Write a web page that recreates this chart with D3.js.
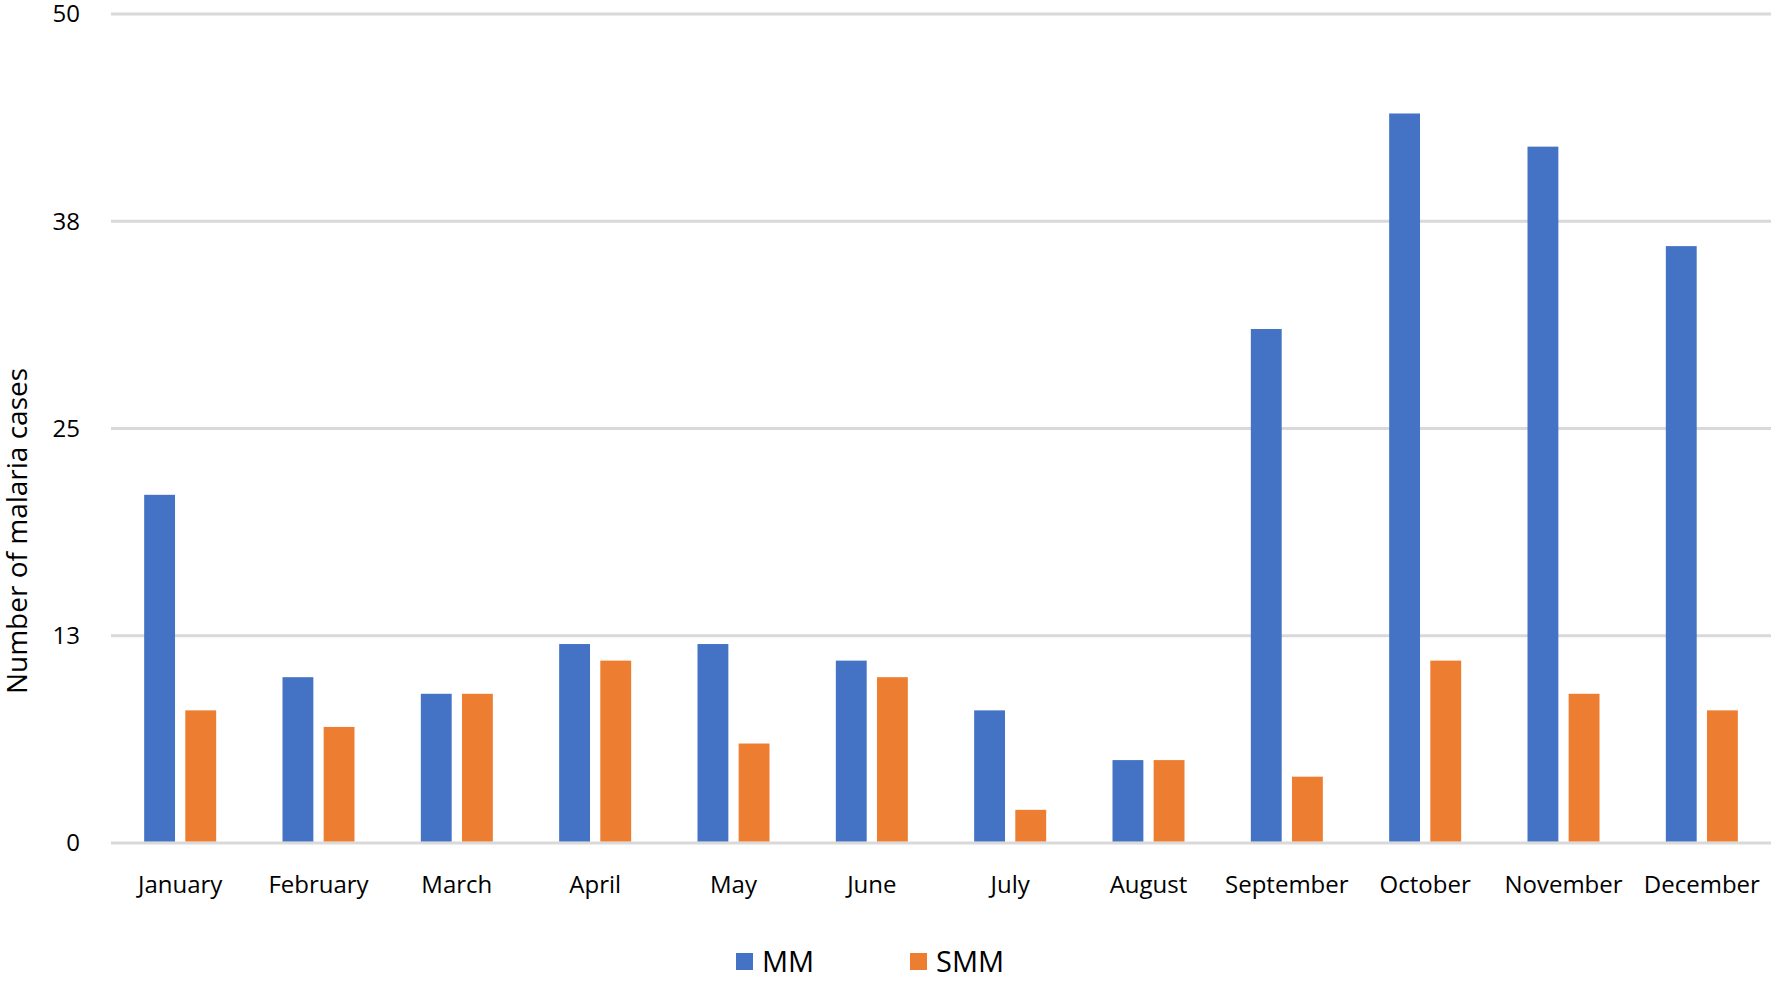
<!DOCTYPE html>
<html>
<head>
<meta charset="utf-8">
<script src="https://cdn.jsdelivr.net/npm/d3@7"></script>
<style>
  body { margin: 0; background: #fff; }
  text { font-family: "Open Sans", sans-serif; fill: #000; }
</style>
</head>
<body>
<svg id="chart" width="1773" height="982"></svg>
<script>
// Data
let months = ["January", "February", "March", "April", "May", "June",
  "July", "August", "September", "October", "November", "December"];
let seriesNames = ["MM", "SMM"];
let mmValues = [21, 10, 9, 12, 12, 11, 8, 5, 31, 44, 42, 36];
let smmValues = [8, 7, 9, 11, 6, 10, 2, 5, 4, 11, 9, 8];
let tickValues = [0, 12.5, 25, 37.5, 50];
let tickLabels = ["0", "13", "25", "38", "50"];
let colors = ["#4472C4", "#ED7D31"];

let svg = d3.select("#chart");
let plotLeft = 111, plotRight = 1771, plotTop = 14, plotBottom = 843;

// Scales
let x0 = d3.scaleBand().domain(months).range([plotLeft, plotRight]);
let bw = x0.bandwidth();
let x1 = d3.scaleBand().domain(seriesNames)
  .range([bw / 2 - 36, bw / 2 + 36])
  .paddingInner(0.25);
let y = d3.scaleLinear().domain([0, 50]).range([plotBottom, plotTop]);
let color = d3.scaleOrdinal().domain(seriesNames).range(colors);

// Gridlines
svg.append("g").selectAll("line")
  .data(tickValues)
  .join("line")
  .attr("x1", plotLeft).attr("x2", plotRight)
  .attr("y1", d => y(d)).attr("y2", d => y(d))
  .attr("stroke", "#d9d9d9")
  .attr("stroke-width", 3);

// Y tick labels
svg.append("g").selectAll("text")
  .data(tickValues)
  .join("text")
  .attr("x", 80)
  .attr("y", d => y(d))
  .attr("dy", "0.35em")
  .attr("text-anchor", "end")
  .style("font-size", "24px")
  .text((d, i) => tickLabels[i]);

// Bars
let rows = months.map((m, i) => ({month: m, values: [mmValues[i], smmValues[i]]}));
svg.append("g").selectAll("g")
  .data(rows)
  .join("g")
  .attr("transform", d => `translate(${x0(d.month)},0)`)
  .selectAll("rect")
  .data(d => seriesNames.map((s, j) => ({key: s, value: d.values[j]})))
  .join("rect")
  .attr("x", d => x1(d.key))
  .attr("width", x1.bandwidth())
  .attr("y", d => y(d.value))
  .attr("height", d => y(0) - y(d.value) - 1.5)
  .attr("fill", d => color(d.key));

// X labels
svg.append("g").selectAll("text")
  .data(months)
  .join("text")
  .attr("x", d => x0(d) + bw / 2)
  .attr("y", 893)
  .attr("text-anchor", "middle")
  .style("font-size", "24px")
  .text(d => d);

// Y axis title
svg.append("text")
  .attr("transform", "translate(27,531) rotate(-90)")
  .attr("text-anchor", "middle")
  .style("font-size", "28px")
  .text("Number of malaria cases");

// Legend
let legendX = [736, 910];
let legend = svg.append("g").selectAll("g")
  .data(seriesNames)
  .join("g")
  .attr("transform", (d, i) => `translate(${legendX[i]},953)`);
legend.append("rect")
  .attr("width", 17).attr("height", 17)
  .attr("fill", d => color(d));
legend.append("text")
  .attr("x", 26).attr("y", 19)
  .style("font-size", "29px")
  .text(d => d);
</script>
</body>
</html>
